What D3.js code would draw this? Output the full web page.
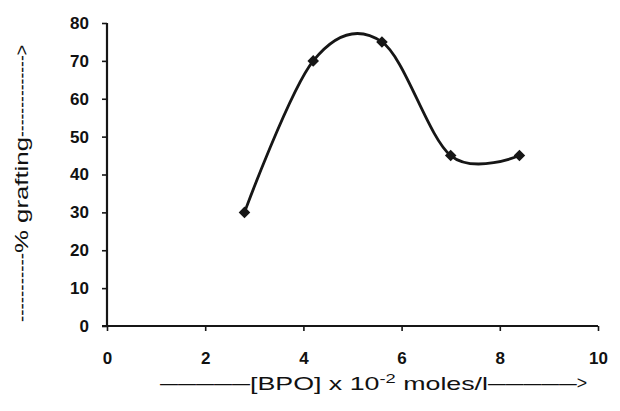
<!DOCTYPE html>
<html>
<head>
<meta charset="utf-8">
<script src="https://cdn.jsdelivr.net/npm/d3@7"></script>
<style>
  body { margin: 0; background: #fff; }
  text { font-family: "Liberation Sans", Arial, sans-serif; fill: #111; }
</style>
</head>
<body>
<script>
// [BPO] x 10^-2 moles/l vs % grafting
var bpo = [2.8, 4.2, 5.6, 7.0, 8.4];
var grafting = [30, 70, 75, 45, 45];
var xTicks = [0, 2, 4, 6, 8, 10];
var yTicks = [0, 10, 20, 30, 40, 50, 60, 70, 80];

var width = 620, height = 411;
var svg = d3.select('body').append('svg')
    .attr('width', width).attr('height', height);

var x = d3.scaleLinear().domain([0, 10]).range([107, 598]);
var y = d3.scaleLinear().domain([0, 80]).range([326, 23]);

var ink = '#161616';

// y axis
var yAxis = svg.append('g')
    .attr('transform', 'translate(' + x(0) + ',0)')
    .call(d3.axisLeft(y).tickValues(yTicks).tickSize(5).tickPadding(13));
yAxis.select('.domain').attr('stroke', ink).attr('stroke-width', 2.2)
    .attr('d', 'M0,' + y(80) + 'V' + y(0));
yAxis.selectAll('.tick line').attr('stroke', ink).attr('stroke-width', 1.6);
yAxis.selectAll('.tick text')
    .style('font-size', '17px').style('font-weight', 'bold')
    .attr('fill', ink);

// x axis
var xAxis = svg.append('g')
    .attr('transform', 'translate(0,' + y(0) + ')')
    .call(d3.axisBottom(x).tickValues(xTicks).tickSize(5).tickPadding(21));
xAxis.select('.domain').attr('stroke', ink).attr('stroke-width', 2.2)
    .attr('d', 'M' + (x(0) - 5) + ',0H' + x(10));
xAxis.selectAll('.tick line').attr('stroke', ink).attr('stroke-width', 1.6);
xAxis.selectAll('.tick text')
    .style('font-size', '17px').style('font-weight', 'bold')
    .attr('fill', ink);

// smoothed line (excel style)
var line = d3.line()
    .x(function(d, i) { return x(bpo[i]); })
    .y(function(d) { return y(d); })
    .curve(d3.curveCardinal.tension(0));

svg.append('path')
    .datum(grafting)
    .attr('d', line)
    .attr('fill', 'none')
    .attr('stroke', ink)
    .attr('stroke-width', 2.8);

// diamond markers
svg.selectAll('.pt')
    .data(grafting)
    .enter().append('path')
    .attr('class', 'pt')
    .attr('d', d3.symbol().type(d3.symbolDiamond2).size(85))
    .attr('transform', function(d, i) { return 'translate(' + x(bpo[i]) + ',' + y(d) + ')'; })
    .attr('fill', ink);

// x title: dashes - text - dashes>
var xt = svg.append('g');
xt.append('text')
    .attr('x', 160).attr('y', 389)
    .attr('textLength', 90).attr('lengthAdjust', 'spacingAndGlyphs')
    .style('font-size', '18px')
    .text('\u2014\u2014\u2014\u2014\u2014');
var mid = xt.append('text')
    .attr('x', 250).attr('y', 390)
    .attr('textLength', 238).attr('lengthAdjust', 'spacingAndGlyphs')
    .style('font-size', '19px');
mid.append('tspan').text('[BPO] x 10');
mid.append('tspan').attr('dy', -7).style('font-size', '13px').text('-2');
mid.append('tspan').attr('dy', 7).text(' moles/l');
xt.append('text')
    .attr('x', 488).attr('y', 389)
    .attr('textLength', 99).attr('lengthAdjust', 'spacingAndGlyphs')
    .style('font-size', '18px')
    .text('\u2014\u2014\u2014\u2014\u2014>');

// y title, rotated: dashes - text - dashes>
var yt = svg.append('g').attr('transform', 'translate(28,0) rotate(-90)');
yt.append('text')
    .attr('x', -322).attr('y', 0)
    .attr('textLength', 69).attr('lengthAdjust', 'spacingAndGlyphs')
    .style('font-size', '18px')
    .text('-----------');
yt.append('text')
    .attr('x', -253).attr('y', 0)
    .attr('textLength', 116).attr('lengthAdjust', 'spacingAndGlyphs')
    .style('font-size', '19px')
    .text('% grafting');
yt.append('text')
    .attr('x', -137).attr('y', 0)
    .attr('textLength', 92).attr('lengthAdjust', 'spacingAndGlyphs')
    .style('font-size', '18px')
    .text('-------------->');
</script>
</body>
</html>
